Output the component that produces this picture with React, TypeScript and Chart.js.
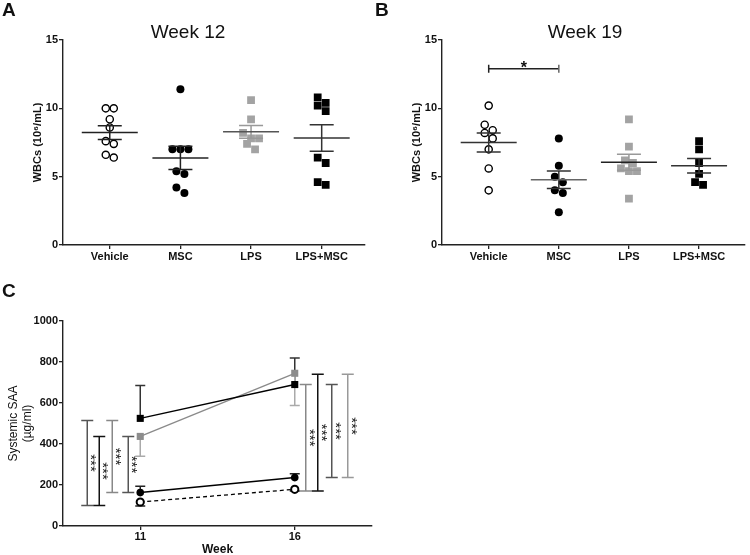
import React, { useEffect, useRef } from 'react';
import { Chart, registerables } from 'chart.js';

Chart.register(...registerables);

// ---------------- data ----------------
const categories = ['Vehicle', 'MSC', 'LPS', 'LPS+MSC'];
const wbcTicks = [0, 5, 10, 15];

const week12Vehicle = [10.0, 10.0, 9.2, 8.6, 7.6, 7.4, 6.6, 6.4];
const week12Msc = [11.4, 7.0, 7.0, 7.0, 5.4, 5.2, 4.2, 3.8];
const week12Lps = [10.6, 9.2, 8.2, 7.8, 7.8, 7.4, 7.0];
const week12LpsMsc = [10.8, 10.4, 10.2, 9.8, 6.4, 6.0, 4.6, 4.4];

const week19Vehicle = [10.2, 8.8, 8.4, 8.2, 7.8, 7.0, 5.6, 4.0];
const week19Msc = [7.8, 5.8, 5.0, 4.6, 4.0, 3.8, 2.4];
const week19Lps = [9.2, 7.2, 6.2, 6.0, 5.6, 5.4, 5.4, 3.4];
const week19LpsMsc = [7.6, 7.0, 6.0, 5.2, 4.6, 4.4];

const week19SigPair = [0, 1];
const week19SigLevel = 12.9;
const week19SigLabel = '*';

const saaWeeks = [11, 16];
const saaTicks = [0, 200, 400, 600, 800, 1000];
const saaVehicle = [117, 179];
const saaVehicleSem = [19, 8];
const saaMsc = [163, 236];
const saaMscSem = [31, 19];
const saaLps = [437, 745];
const saaLpsSem = [97, 157];
const saaLpsMsc = [525, 690];
const saaLpsMscSem = [160, 130];

const saaSigWeek11Low = [100, 100, 163, 163];
const saaSigWeek11High = [515, 437, 515, 437];
const saaSigWeek16Low = [171, 171, 236, 236];
const saaSigWeek16High = [690, 740, 690, 740];
const saaSigLabel = '***';

// ---------------- styles ----------------
const FONT = '"Liberation Sans", Arial, Helvetica, sans-serif';
const INK = '#111111';
const AXIS = '#222222';

const groupPointStyles: any[] = [
  { pointStyle: 'circle', pointRadius: 3.6, pointBackgroundColor: '#ffffff', pointBorderColor: '#000000', pointBorderWidth: 1.4 },
  { pointStyle: 'circle', pointRadius: 4, pointBackgroundColor: '#000000', pointBorderColor: '#000000', pointBorderWidth: 0 },
  { pointStyle: 'rect', pointRadius: 5.5, pointBackgroundColor: '#a3a3a3', pointBorderColor: '#a3a3a3', pointBorderWidth: 0 },
  { pointStyle: 'rect', pointRadius: 5.5, pointBackgroundColor: '#000000', pointBorderColor: '#000000', pointBorderWidth: 0 },
];

// ---------------- plugins ----------------
function makeTitlePlugin(text: string, x: number, y: number) {
  return {
    id: 'panelTitle',
    afterDraw(chart: any) {
      const ctx = chart.ctx;
      ctx.save();
      ctx.font = `19px ${FONT}`;
      ctx.fillStyle = INK;
      ctx.textAlign = 'center';
      ctx.textBaseline = 'middle';
      ctx.fillText(text, x, y);
      ctx.restore();
    },
  };
}

function makeBeeswarmPlugin(gap: number) {
  return {
    id: 'beeswarm',
    afterDatasetsUpdate(chart: any) {
      chart.data.datasets.forEach((_ds: any, i: number) => {
        const meta = chart.getDatasetMeta(i);
        const pts = meta.data.slice().sort((a: any, b: any) => a.y - b.y);
        let row: any[] = [];
        const flush = () => {
          row.forEach((el, k) => {
            el.x += (k - (row.length - 1) / 2) * gap;
          });
          row = [];
        };
        pts.forEach((el: any) => {
          if (row.length && Math.abs(el.y - row[0].y) >= gap) flush();
          row.push(el);
        });
        flush();
      });
    },
  };
}

function makeMeanSemPlugin(meanColors: string[], semColors: string[]) {
  return {
    id: 'meanSem',
    afterDatasetsDraw(chart: any) {
      const { ctx, scales } = chart;
      const xs = scales.x;
      const ys = scales.y;
      chart.data.datasets.forEach((ds: any, i: number) => {
        const vals = ds.data.map((p: any) => p.y);
        const n = vals.length;
        const mean = vals.reduce((a: number, b: number) => a + b, 0) / n;
        const sd = Math.sqrt(vals.reduce((a: number, b: number) => a + (b - mean) * (b - mean), 0) / (n - 1));
        const sem = sd / Math.sqrt(n);
        const cx = xs.getPixelForValue(i + 1);
        const ym = ys.getPixelForValue(mean);
        const yt = ys.getPixelForValue(mean + sem);
        const yb = ys.getPixelForValue(mean - sem);
        ctx.save();
        ctx.lineWidth = 1.5;
        ctx.strokeStyle = semColors[i];
        ctx.beginPath();
        ctx.moveTo(cx, yt);
        ctx.lineTo(cx, yb);
        ctx.moveTo(cx - 12, yt);
        ctx.lineTo(cx + 12, yt);
        ctx.moveTo(cx - 12, yb);
        ctx.lineTo(cx + 12, yb);
        ctx.stroke();
        ctx.strokeStyle = meanColors[i];
        ctx.beginPath();
        ctx.moveTo(cx - 28, ym);
        ctx.lineTo(cx + 28, ym);
        ctx.stroke();
        ctx.restore();
      });
    },
  };
}

function makeHBracketPlugin(pair: number[], level: number, label: string) {
  return {
    id: 'hBracket',
    afterDatasetsDraw(chart: any) {
      const { ctx, scales } = chart;
      const x1 = scales.x.getPixelForValue(pair[0] + 1);
      const x2 = scales.x.getPixelForValue(pair[1] + 1);
      const y = scales.y.getPixelForValue(level);
      ctx.save();
      ctx.lineWidth = 1.5;
      ctx.strokeStyle = '#222';
      ctx.beginPath();
      ctx.moveTo(x1, y);
      ctx.lineTo(x2, y);
      ctx.moveTo(x1, y - 4);
      ctx.lineTo(x1, y + 4);
      ctx.stroke();
      ctx.strokeStyle = '#666';
      ctx.beginPath();
      ctx.moveTo(x2, y - 4);
      ctx.lineTo(x2, y + 4);
      ctx.stroke();
      ctx.fillStyle = INK;
      ctx.font = `bold 16px ${FONT}`;
      ctx.textAlign = 'center';
      ctx.textBaseline = 'alphabetic';
      ctx.fillText(label, (x1 + x2) / 2, y + 4);
      ctx.restore();
    },
  };
}

function makeErrorBarPlugin() {
  return {
    id: 'errorBars',
    beforeDatasetsDraw(chart: any) {
      const { ctx, scales } = chart;
      chart.data.datasets.forEach((ds: any) => {
        ds.data.forEach((p: any, j: number) => {
          const cx = scales.x.getPixelForValue(p.x);
          const y0 = scales.y.getPixelForValue(p.y);
          const y1 = scales.y.getPixelForValue(p.y + ds.errDir * ds.sem[j]);
          ctx.save();
          ctx.lineWidth = 1.5;
          ctx.strokeStyle = ds.errColor;
          ctx.beginPath();
          ctx.moveTo(cx, y0);
          ctx.lineTo(cx, y1);
          ctx.moveTo(cx - 5, y1);
          ctx.lineTo(cx + 5, y1);
          ctx.stroke();
          ctx.restore();
        });
      });
    },
  };
}

function makeVBracketPlugin(groups: { week: number; low: number[]; high: number[]; offsets: number[]; colors: string[] }[], label: string) {
  return {
    id: 'vBrackets',
    beforeDatasetsDraw(chart: any) {
      const { ctx, scales } = chart;
      groups.forEach((g) => {
        const wx = scales.x.getPixelForValue(g.week);
        g.low.forEach((lo, k) => {
          const hi = g.high[k];
          const bx = wx + g.offsets[k];
          const yl = scales.y.getPixelForValue(lo);
          const yh = scales.y.getPixelForValue(hi);
          ctx.save();
          ctx.lineWidth = 1.5;
          ctx.strokeStyle = g.colors[k];
          ctx.beginPath();
          ctx.moveTo(bx, yl);
          ctx.lineTo(bx, yh);
          ctx.moveTo(bx - 6, yl);
          ctx.lineTo(bx + 6, yl);
          ctx.moveTo(bx - 6, yh);
          ctx.lineTo(bx + 6, yh);
          ctx.stroke();
          ctx.translate(bx + 3, (yl + yh) / 2);
          ctx.rotate(Math.PI / 2);
          ctx.fillStyle = '#222';
          ctx.font = `15px ${FONT}`;
          ctx.textAlign = 'center';
          ctx.textBaseline = 'middle';
          ctx.fillText(label, 0, 0);
          ctx.restore();
        });
      });
    },
  };
}

// ---------------- configs ----------------
const tickFont = { family: FONT, size: 11, weight: 'bold' as const };

function axisCommon() {
  return {
    grid: { drawOnChartArea: false, drawTicks: true, tickLength: 4, color: AXIS, lineWidth: 1.3 },
    border: { display: true, color: AXIS, width: 1.4 },
  };
}

function wbcConfig(
  title: string,
  titleX: number,
  series: number[][],
  padLeft: number,
  padRight: number,
  xMin: number,
  xMax: number,
  meanColors: string[],
  semColors: string[],
  extraPlugins: any[]
) {
  return {
    type: 'scatter' as const,
    data: {
      datasets: series.map((vals, i) => ({
        label: categories[i],
        data: vals.map((v) => ({ x: i + 1, y: v })),
        ...groupPointStyles[i],
      })),
    },
    options: {
      responsive: false,
      animation: false as const,
      devicePixelRatio: 1,
      events: [],
      layout: { padding: { left: padLeft, right: padRight, top: 40, bottom: 8 } },
      plugins: { legend: { display: false }, tooltip: { enabled: false } },
      scales: {
        x: {
          type: 'linear' as const,
          min: xMin,
          max: xMax,
          afterBuildTicks: (s: any) => {
            s.ticks = categories.map((_c, i) => ({ value: i + 1 }));
          },
          afterFit: (s: any) => {
            s.height = 22;
          },
          ticks: {
            font: tickFont,
            color: INK,
            padding: 1,
            autoSkip: false,
            maxRotation: 0,
            callback: (v: number) => categories[Math.round(v) - 1] ?? '',
          },
          ...axisCommon(),
        },
        y: {
          min: 0,
          max: 15,
          afterBuildTicks: (s: any) => {
            s.ticks = wbcTicks.map((v) => ({ value: v }));
          },
          afterFit: (s: any) => {
            s.width = 38;
          },
          ticks: { font: tickFont, color: INK, padding: 1, callback: (v: number) => String(v) },
          title: {
            display: true,
            text: 'WBCs (10⁶/mL)',
            font: { family: FONT, size: 11, weight: 'bold' as const },
            color: INK,
            padding: { top: 6, bottom: 0 },
          },
          ...axisCommon(),
        },
      },
    },
    plugins: [makeBeeswarmPlugin(8), makeMeanSemPlugin(meanColors, semColors), makeTitlePlugin(title, titleX, 33), ...extraPlugins],
  };
}

function configA() {
  return wbcConfig(
    'Week 12',
    188,
    [week12Vehicle, week12Msc, week12Lps, week12LpsMsc],
    25,
    4,
    0.338,
    4.606,
    ['#222', '#222', '#555', '#333'],
    ['#222', '#222', '#999', '#333'],
    []
  );
}

function configB() {
  return wbcConfig(
    'Week 19',
    215,
    [week19Vehicle, week19Msc, week19Lps, week19LpsMsc],
    34,
    2,
    0.334,
    4.648,
    ['#333', '#666', '#222', '#333'],
    ['#333', '#333', '#999', '#333'],
    [makeHBracketPlugin(week19SigPair, week19SigLevel, week19SigLabel)]
  );
}

function configC() {
  const pts = (vals: number[]) => saaWeeks.map((w, i) => ({ x: w, y: vals[i] }));
  return {
    type: 'scatter' as const,
    data: {
      datasets: [
        {
          label: 'Vehicle',
          data: pts(saaVehicle),
          sem: saaVehicleSem,
          errDir: -1,
          errColor: '#222',
          showLine: true,
          borderColor: '#000',
          borderWidth: 1.3,
          borderDash: [4, 3],
          pointStyle: 'circle',
          pointRadius: 3.6,
          pointBorderWidth: 2,
          pointBackgroundColor: '#fff',
          pointBorderColor: '#000',
        },
        {
          label: 'MSC',
          data: pts(saaMsc),
          sem: saaMscSem,
          errDir: 1,
          errColor: '#222',
          showLine: true,
          borderColor: '#000',
          borderWidth: 1.5,
          pointStyle: 'circle',
          pointRadius: 3.8,
          pointBorderWidth: 0,
          pointBackgroundColor: '#000',
          pointBorderColor: '#000',
        },
        {
          label: 'LPS+MSC',
          data: pts(saaLpsMsc),
          sem: saaLpsMscSem,
          errDir: 1,
          errColor: '#333',
          showLine: true,
          borderColor: '#000',
          borderWidth: 1.5,
          pointStyle: 'rect',
          pointRadius: 5,
          pointBorderWidth: 0,
          pointBackgroundColor: '#000',
          pointBorderColor: '#000',
        },
        {
          label: 'LPS',
          data: pts(saaLps),
          sem: saaLpsSem,
          errDir: -1,
          errColor: '#aaa',
          showLine: true,
          borderColor: '#8a8a8a',
          borderWidth: 1.3,
          pointStyle: 'rect',
          pointRadius: 5,
          pointBorderWidth: 0,
          pointBackgroundColor: '#8c8c8c',
          pointBorderColor: '#8c8c8c',
        },
      ],
    },
    options: {
      responsive: false,
      animation: false as const,
      devicePixelRatio: 1,
      events: [],
      layout: { padding: { left: 2, right: 48, top: 41, bottom: 0 } },
      plugins: { legend: { display: false }, tooltip: { enabled: false } },
      scales: {
        x: {
          type: 'linear' as const,
          min: 8.5,
          max: 18.5,
          afterBuildTicks: (s: any) => {
            s.ticks = saaWeeks.map((w) => ({ value: w }));
          },
          afterFit: (s: any) => {
            s.height = 29;
          },
          ticks: { font: tickFont, color: INK, padding: 0, autoSkip: false, maxRotation: 0, callback: (v: number) => String(v) },
          title: {
            display: true,
            text: 'Week',
            font: { family: FONT, size: 12, weight: 'bold' as const },
            color: INK,
            padding: { top: 0, bottom: -2 },
          },
          ...axisCommon(),
        },
        y: {
          min: 0,
          max: 1000,
          afterBuildTicks: (s: any) => {
            s.ticks = saaTicks.map((v) => ({ value: v }));
          },
          afterFit: (s: any) => {
            s.width = 61;
          },
          ticks: { font: tickFont, color: INK, padding: 1, callback: (v: number) => String(v) },
          title: {
            display: true,
            text: ['Systemic SAA', '(µg/ml)'],
            font: { family: FONT, size: 12, weight: 'normal' as const },
            color: INK,
            padding: { top: 4, bottom: 0 },
          },
          ...axisCommon(),
        },
      },
    },
    plugins: [
      makeVBracketPlugin(
        [
          { week: 11, low: saaSigWeek11Low, high: saaSigWeek11High, offsets: [-53, -41, -28, -12], colors: ['#555', '#111', '#888', '#555'] },
          { week: 16, low: saaSigWeek16Low, high: saaSigWeek16High, offsets: [11, 23, 37, 53], colors: ['#888', '#111', '#555', '#999'] },
        ],
        saaSigLabel
      ),
      makeErrorBarPlugin(),
    ],
  };
}

// ---------------- components ----------------
function ChartCanvas(props: { makeConfig: () => any; left: number; top: number; width: number; height: number }) {
  const ref = useRef<HTMLCanvasElement | null>(null);
  useEffect(() => {
    const chart = new Chart(ref.current as HTMLCanvasElement, props.makeConfig());
    return () => chart.destroy();
  }, []);
  return (
    <canvas
      ref={ref}
      width={props.width}
      height={props.height}
      style={{ position: 'absolute', left: props.left, top: props.top, width: props.width, height: props.height }}
    />
  );
}

const panelLabelStyle: React.CSSProperties = {
  position: 'absolute',
  fontFamily: FONT,
  fontWeight: 'bold',
  fontSize: 19,
  lineHeight: '19px',
  color: '#111',
};

export default function App() {
  return (
    <div style={{ position: 'absolute', left: 0, top: 0, width: 750, height: 555, background: '#fff', overflow: 'hidden' }}>
      <ChartCanvas makeConfig={configA} left={0} top={0} width={370} height={275} />
      <ChartCanvas makeConfig={configB} left={370} top={0} width={380} height={275} />
      <ChartCanvas makeConfig={configC} left={0} top={280} width={420} height={275} />
      <div style={{ ...panelLabelStyle, left: 2, top: 0 }}>A</div>
      <div style={{ ...panelLabelStyle, left: 375, top: 0 }}>B</div>
      <div style={{ ...panelLabelStyle, left: 2, top: 281 }}>C</div>
    </div>
  );
}
